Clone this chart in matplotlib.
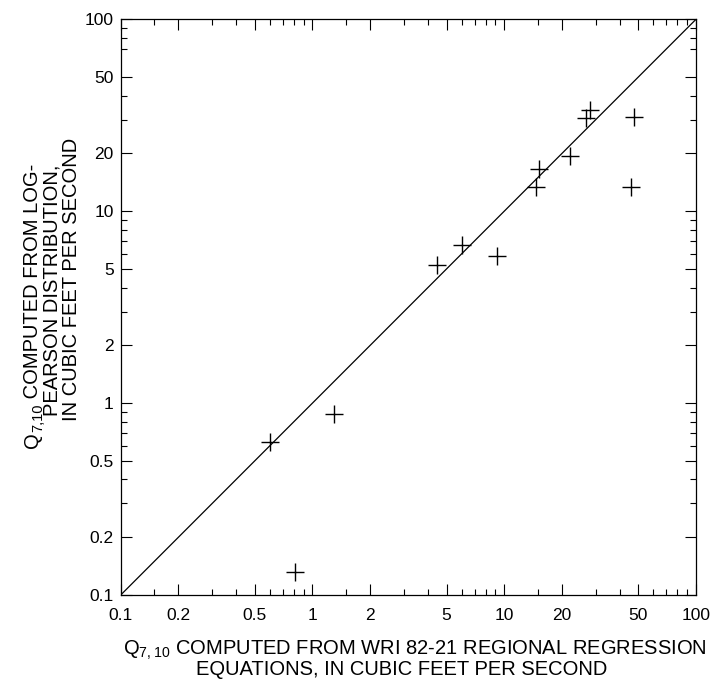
import matplotlib
matplotlib.use("Agg")
import matplotlib.pyplot as plt
from matplotlib.ticker import FixedLocator, NullFormatter

plt.rcParams['font.family'] = ['Liberation Sans', 'DejaVu Sans']
plt.rcParams['mathtext.fontset'] = 'custom'
plt.rcParams['mathtext.rm'] = 'Liberation Sans'

# Data (regression estimate, log-Pearson estimate)
q_regression = [0.60, 0.81, 1.30, 4.47, 6.0, 9.19, 14.6, 15.2, 22.1, 26.6, 28.1, 45.8, 47.6]
q_logpearson = [0.63, 0.131, 0.877, 5.24, 6.67, 5.86, 13.3, 16.5, 19.5, 30.5, 33.7, 13.3, 30.9]

line_ends = [0.1, 100]
major_ticks = [0.1, 0.2, 0.5, 1, 2, 5, 10, 20, 50, 100]
tick_labels = ['0.1', '0.2', '0.5', '1', '2', '5', '10', '20', '50', '100']
x_minor = [0.15, 0.3, 0.4, 0.6, 0.7, 0.8, 0.9,
           1.5, 3, 4, 6, 7, 8, 9,
           15, 30, 40, 60, 70, 80, 90]
y_minor = [0.3, 0.4, 0.6, 0.7, 0.8, 0.9,
           3, 4, 6, 7, 8, 9,
           30, 40, 70, 80, 90]

W, H = 728, 687
fig = plt.figure(figsize=(W / 100, H / 100), dpi=100)
ax = fig.add_axes([120.7 / W, 1 - 595 / H, 575.3 / W, 575.7 / H])

ax.plot(line_ends, line_ends, color='black', lw=0.9)
ax.plot(q_regression, q_logpearson, linestyle='none', marker='+',
        color='black', markersize=12.5, markeredgewidth=1.0)

ax.set_xscale('log')
ax.set_yscale('log')
ax.set_xlim(0.1, 100)
ax.set_ylim(0.1, 100)

for axis, minors in ((ax.xaxis, x_minor), (ax.yaxis, y_minor)):
    axis.set_major_locator(FixedLocator(major_ticks))
    axis.set_minor_locator(FixedLocator(minors))
    axis.set_minor_formatter(NullFormatter())
ax.set_xticklabels(tick_labels)
ax.set_yticklabels(tick_labels)

ax.tick_params(which='both', direction='in', top=True, right=True,
               width=0.8, color='black', labelsize=12.5)
ax.tick_params(which='major', length=8)
ax.tick_params(which='minor', length=4)
ax.tick_params(axis='x', which='major', pad=9)
ax.tick_params(axis='y', which='major', pad=5)
for sp in ax.spines.values():
    sp.set_linewidth(0.9)

fs = 14.5
sub_fs = 10.5
fig.text(415 / W, 1 - 654.3 / H,
         r'Q$_{\mathregular{7,10}}$ COMPUTED FROM WRI 82-21 REGIONAL REGRESSION',
         ha='center', va='baseline', fontsize=fs)
fig.text(402 / W, 1 - 675 / H, 'EQUATIONS, IN CUBIC FEET PER SECOND',
         ha='center', va='baseline', fontsize=fs)

# Y label first line built from pieces (Q, subscript, rest)
renderer = fig.canvas.get_renderer()
pieces = [('Q', fs, 0.0), ('7,10', sub_fs, 4.5), (' COMPUTED FROM LOG-', fs, 0.0)]
widths = []
for s, size, _ in pieces:
    t = fig.text(0, 0, s, fontsize=size)
    widths.append(t.get_window_extent(renderer).width)
    t.remove()
x_base = 38.0
y_start = H - 448
for (s, size, shift), w in zip(pieces, widths):
    fig.text((x_base + shift) / W, y_start / H, s, fontsize=size,
             rotation=90, rotation_mode='anchor', ha='left', va='baseline')
    y_start += w

fig.text(57.5 / W, 1 - 290 / H, 'PEARSON DISTRIBUTION,',
         rotation=90, rotation_mode='anchor', ha='center', va='baseline', fontsize=fs)
fig.text(77 / W, 1 - 279 / H, 'IN CUBIC FEET PER SECOND',
         rotation=90, rotation_mode='anchor', ha='center', va='baseline', fontsize=fs)

fig.savefig('out.png', dpi=100)
